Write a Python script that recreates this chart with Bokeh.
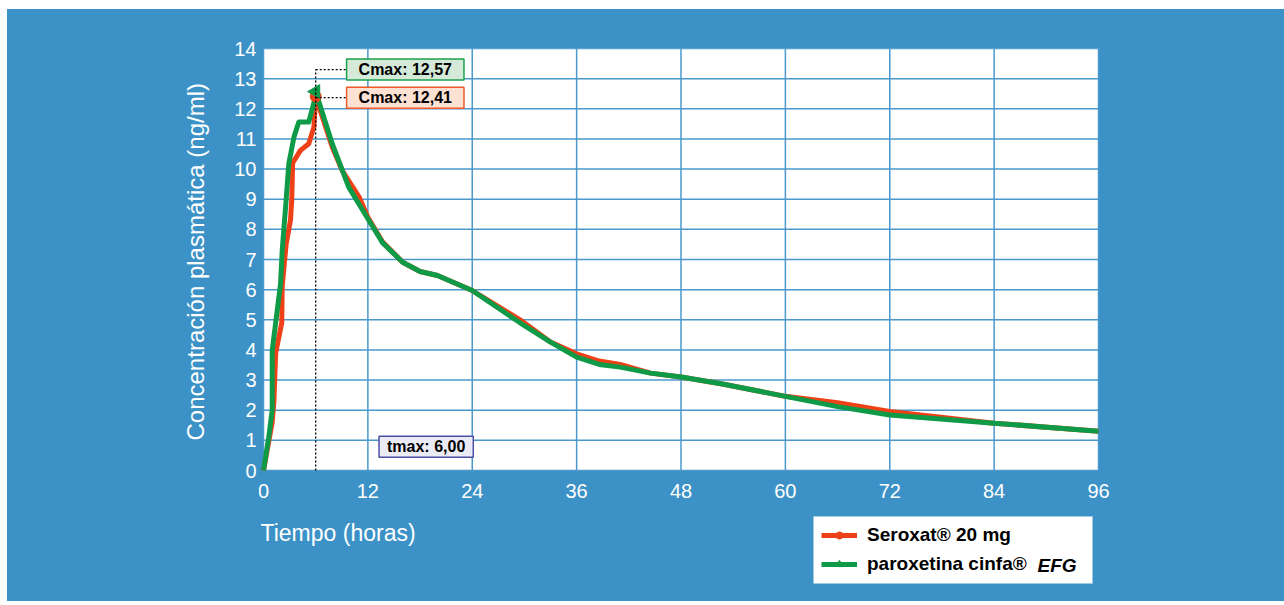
from bokeh.plotting import figure
from bokeh.models import Label, Legend, LegendItem, FixedTicker, Range1d, Title, BoxAnnotation
from bokeh.embed import file_html
from bokeh.resources import INLINE
import numpy as np

# ---------------- data ----------------
t_seroxat = [0, 1.0, 1.2, 1.4, 2.1, 2.15, 2.6, 3.1, 3.25, 3.35, 4.25, 5.2, 5.8, 6.0,
             7.9, 9.05, 11.0, 12.0, 13.7, 16.0, 18.0, 20.0, 24.0, 29.5, 33.0, 36.0,
             38.6, 41.0, 44.5, 48.0, 52.6, 60.0, 66.0, 72.0, 84.0, 96.0]
c_seroxat = [0, 1.6, 2.3, 3.9, 4.9, 6.1, 7.5, 8.3, 9.0, 10.2, 10.62, 10.84, 11.4, 12.41,
             10.73, 9.95, 9.07, 8.4, 7.58, 6.91, 6.6, 6.47, 5.97, 5.0, 4.26, 3.87,
             3.63, 3.52, 3.23, 3.1, 2.88, 2.46, 2.25, 1.96, 1.57, 1.3]

t_cinfa = [0, 0.6, 1.0, 1.0, 1.96, 2.15, 2.6, 2.91, 3.5, 4.06, 5.2, 5.8, 6.0,
           7.9, 9.8, 12.0, 13.7, 16.0, 18.0, 20.0, 24.0, 29.5, 33.0, 36.0,
           38.6, 41.0, 44.5, 48.0, 52.6, 60.0, 66.0, 72.0, 84.0, 96.0]
c_cinfa = [0, 1.1, 2.0, 3.98, 6.19, 7.3, 8.96, 10.18, 11.06, 11.56, 11.56, 12.2, 12.57,
           10.84, 9.4, 8.35, 7.55, 6.91, 6.6, 6.47, 5.97, 4.9, 4.26, 3.76,
           3.52, 3.43, 3.23, 3.1, 2.88, 2.46, 2.12, 1.84, 1.57, 1.3]

tmax = 6.0
cmax_seroxat = 12.41
cmax_cinfa = 12.57

x_ticks = [0, 12, 24, 36, 48, 60, 72, 84, 96]
y_ticks = list(range(0, 15))

label_seroxat = "Seroxat® 20 mg"
label_cinfa = "paroxetina cinfa®"
label_cinfa_suffix = "EFG"
text_cmax_cinfa = "Cmax: 12,57"
text_cmax_seroxat = "Cmax: 12,41"
text_tmax = "tmax: 6,00"
x_title = "Tiempo (horas)"
y_title = "Concentración plasmática (ng/ml)"

# annotation placement (data units)
box_x = 16.3
box_cinfa_y = 13.3
box_seroxat_y = 12.37
box_left = 9.78
tmax_box_x = 18.7
tmax_box_y = 0.79

# ---------------- layout (pixels) ----------------
W, H = 1277, 592
BORDER_L, BORDER_R, BORDER_T, BORDER_B = 251, 174, 39, 0
PLOT_W_PX = 835      # width of the white plotting area
PLOT_H_PX = 422      # height of the white plotting area
LEFT_PAD_PX = 5      # frame extends a bit left of x=0
frame_w = W - BORDER_L - BORDER_R
frame_h = H - BORDER_T - BORDER_B
px_x = PLOT_W_PX / (x_ticks[-1] - x_ticks[0])
px_y = PLOT_H_PX / (y_ticks[-1] - y_ticks[0])
x_lo = x_ticks[0] - LEFT_PAD_PX / px_x
x_hi = x_lo + frame_w / px_x
y_hi = y_ticks[-1]
y_lo = y_hi - frame_h / px_y

# legend box (screen px from the frame's bottom-left corner)
LEG_L, LEG_R, LEG_B, LEG_T = 555, 834, 18, 85
LEG_SHIFT = 8

# ---------------- styles ----------------
BLUE = "#3c92c6"
RED = "#ee4117"
GREEN = "#0f9a48"
GRID = "#4a98cc"
FONT = "Liberation Sans"

p = figure(width=W, height=H, x_range=Range1d(x_lo, x_hi), y_range=Range1d(y_lo, y_hi),
           output_backend="svg", toolbar_location=None,
           min_border_left=BORDER_L, min_border_right=BORDER_R,
           min_border_top=BORDER_T, min_border_bottom=BORDER_B,
           background_fill_color=BLUE, border_fill_color=BLUE,
           outline_line_color=BLUE, outline_line_width=2)
p.margin = (9, 0, 0, 7)
p.styles = {"background-color": BLUE}
p.grid.visible = False

for ax in (p.xaxis[0], p.yaxis[0]):
    ax.axis_line_color = None
    ax.major_tick_line_color = None
    ax.minor_tick_line_color = None
    ax.major_tick_out = 0
    ax.major_tick_in = 0
    ax.minor_tick_out = 0
    ax.minor_tick_in = 0
    ax.major_label_text_color = "white"
    ax.major_label_text_font = FONT
    ax.major_label_text_font_size = "20px"

p.xaxis.ticker = FixedTicker(ticks=x_ticks)
p.yaxis.ticker = FixedTicker(ticks=y_ticks)
p.xaxis.fixed_location = 0
p.xaxis.major_label_standoff = 13
p.yaxis.major_label_standoff = 2

p.add_layout(Title(text=y_title, align="left", offset=161, standoff=46,
                   vertical_align="bottom", text_color="white", text_font=FONT,
                   text_font_size="24px", text_font_style="normal"), "left")

# white plotting area and its grid
p.quad(left=[x_ticks[0]], right=[x_ticks[-1]], bottom=[y_ticks[0]], top=[y_ticks[-1]],
       fill_color="white", line_color=None)
p.segment(x0=x_ticks, y0=[y_ticks[0]] * len(x_ticks), x1=x_ticks, y1=[y_ticks[-1]] * len(x_ticks),
          line_color=GRID, line_width=1.5)
p.segment(x0=[x_ticks[0]] * len(y_ticks), y0=y_ticks, x1=[x_ticks[-1]] * len(y_ticks), y1=y_ticks,
          line_color=GRID, line_width=1.5)

# curves
r_ser = p.line(t_seroxat, c_seroxat, line_color=RED, line_width=5, line_join="round")
r_cin = p.line(t_cinfa, c_cinfa, line_color=GREEN, line_width=5, line_join="round")
m_ser = p.scatter([tmax], [cmax_seroxat], marker="circle", size=11, fill_color=RED, line_color=RED)
m_cin = p.scatter([tmax], [cmax_cinfa], marker="triangle", angle=np.pi / 2, size=14,
                  fill_color=GREEN, line_color=GREEN)

# dotted leader lines
p.segment(x0=[tmax, tmax, tmax], y0=[0, box_cinfa_y, box_seroxat_y],
          x1=[tmax, box_left, box_left], y1=[box_cinfa_y, box_cinfa_y, box_seroxat_y],
          line_color="black", line_width=1.3, line_dash="2 2")

def box_label(x, y, text, fill, border, hpad):
    return Label(x=x, y=y, text=text, text_align="center", text_baseline="middle",
                 text_font=FONT, text_font_size="16px", text_font_style="bold",
                 text_color="black", background_fill_color=fill,
                 border_line_color=border, border_line_width=1.5, padding=(hpad, 2))

p.add_layout(box_label(box_x, box_cinfa_y, text_cmax_cinfa, "#d4e9d7", "#1ba04c", 12))
p.add_layout(box_label(box_x, box_seroxat_y, text_cmax_seroxat, "#fde1d3", "#ef5a2a", 12))
p.add_layout(box_label(tmax_box_x, tmax_box_y, text_tmax, "#ebebf6", "#4b4fa0", 8))

p.add_layout(Label(x=2, y=69, x_units="screen", y_units="screen", text=x_title,
                   text_align="left", text_baseline="middle", text_color="white",
                   text_font=FONT, text_font_size="23px"))

# legend: white box underneath, transparent legend on top
p.add_layout(BoxAnnotation(left=LEG_L, right=LEG_R, bottom=LEG_B, top=LEG_T,
                           left_units="screen", right_units="screen",
                           bottom_units="screen", top_units="screen",
                           fill_color="white", fill_alpha=1,
                           line_color="#a9cde6", line_width=1, level="underlay"))

NBSP = "\u00a0"
legend = Legend(items=[LegendItem(label=label_seroxat, renderers=[r_ser, m_ser]),
                       LegendItem(label=label_cinfa + NBSP * 11, renderers=[r_cin, m_cin])],
                location=(LEG_L + LEG_SHIFT, LEG_B + LEG_SHIFT), orientation="vertical",
                label_text_font=FONT,
                label_text_font_style="bold", label_text_font_size="19px",
                label_text_color="black", glyph_width=36, glyph_height=18,
                label_height=18, spacing=7, padding=7, label_standoff=10, margin=0,
                background_fill_alpha=0, border_line_color=None)
p.add_layout(legend)

# italic suffix of the second legend entry
p.add_layout(Label(x=779, y=36, x_units="screen", y_units="screen", text=label_cinfa_suffix,
                   text_align="left", text_baseline="middle", text_color="black",
                   text_font=FONT, text_font_size="19px", text_font_style="bold italic"))

open("out.html", "w").write(file_html(p, INLINE))
